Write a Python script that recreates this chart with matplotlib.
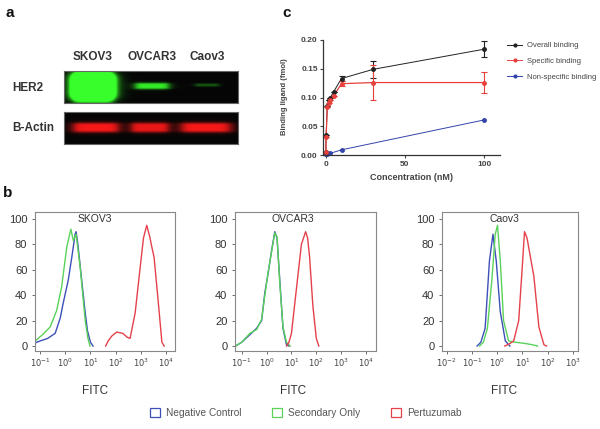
import numpy as np
import matplotlib
matplotlib.use('Agg')
import matplotlib.pyplot as plt
from matplotlib.patches import Patch
from matplotlib.lines import Line2D

plt.rcParams['font.family'] = ['Liberation Sans', 'DejaVu Sans']

W, H = 600, 429
fig = plt.figure(figsize=(6, 4.29), dpi=100)


def ax_px(l, t, r, b):
    return fig.add_axes([l / W, 1 - b / H, (r - l) / W, (b - t) / H])


# ---------------- data ----------------
cell_lines = ['SKOV3', 'OVCAR3', 'Caov3']
blot_rows = ['HER2', 'B-Actin']
her2_intensity = [4.0, 0.9, 0.3]
actin_intensity = [0.95, 0.9, 0.95]

conc = [0.1, 0.3, 1, 2, 3, 5, 10, 30, 100]
overall = [0.006, 0.035, 0.085, 0.095, 0.100, 0.110, 0.133, 0.149, 0.184]
overall_err = [0, 0, 0, 0, 0, 0, 0.004, 0.015, 0.014]
specific = [0.005, 0.032, 0.083, 0.090, 0.095, 0.103, 0.124, 0.126, 0.126]
specific_err = [0, 0, 0, 0, 0, 0, 0.004, 0.030, 0.018]
ns_conc = [0.1, 0.3, 1, 3, 10, 100]
nonspecific = [0.001, 0.001, 0.002, 0.003, 0.009, 0.061]
binding_labels = ['Overall binding', 'Specific binding', 'Non-specific binding']

# flow cytometry histograms (log10 FITC, % of max)
skov3_neg_x = [-1.25, -1.0, -0.7, -0.4, -0.2, -0.08, 0.12, 0.26, 0.39, 0.43, 0.5, 0.65, 0.78, 0.88, 1.0, 1.1]
skov3_neg_y = [2, 4, 6, 10, 22, 34, 52, 70, 88, 90, 80, 52, 28, 12, 3, 0]
skov3_sec_x = [-1.25, -1.13, -0.9, -0.6, -0.34, -0.14, 0.06, 0.22, 0.32, 0.43, 0.59, 0.79, 0.9, 0.98]
skov3_sec_y = [3, 5, 9, 15, 28, 47, 78, 92, 83, 88, 62, 20, 6, 0]
skov3_per_x = [1.6, 1.7, 1.85, 2.04, 2.28, 2.45, 2.57, 2.77, 2.97, 3.1, 3.23, 3.35, 3.43, 3.52, 3.69, 3.83, 3.92]
skov3_per_y = [0, 4, 8, 11, 10, 7, 6, 26, 62, 85, 95, 86, 78, 70, 34, 3, 0]

ovcar3_neg_x = [-1.25, -1.0, -0.67, -0.4, -0.2, -0.07, 0.06, 0.2, 0.33, 0.42, 0.53, 0.66, 0.8, 0.9]
ovcar3_neg_y = [0, 3, 9, 14, 20, 42, 57, 75, 90, 85, 52, 14, 1, 0]
ovcar3_sec_x = [-1.25, -1.0, -0.67, -0.4, -0.2, -0.07, 0.06, 0.2, 0.33, 0.42, 0.53, 0.66, 0.8, 0.95]
ovcar3_sec_y = [0, 3, 10, 13, 21, 40, 58, 74, 89, 86, 50, 15, 3, 0]
ovcar3_per_x = [0.8, 0.9, 1.0, 1.2, 1.4, 1.57, 1.65, 1.73, 1.86, 2.0, 2.1]
ovcar3_per_y = [0, 3, 10, 45, 80, 90, 85, 70, 32, 6, 0]

caov3_neg_x = [-0.8, -0.65, -0.48, -0.31, -0.17, -0.04, 0.12, 0.32, 0.5]
caov3_neg_y = [0, 3, 14, 67, 88, 67, 27, 4, 0]
caov3_sec_x = [-0.7, -0.55, -0.39, -0.21, -0.08, 0.01, 0.12, 0.25, 0.45, 0.72, 1.12, 1.4, 1.6]
caov3_sec_y = [0, 3, 14, 53, 88, 95, 67, 20, 4, 3, 2, 1, 0]
caov3_per_x = [0.3, 0.5, 0.65, 0.85, 1.0, 1.08, 1.18, 1.45, 1.65, 1.85, 1.95]
caov3_per_y = [0, 2, 4, 20, 65, 90, 85, 55, 15, 1, 0]

hist_series = {
    'SKOV3': [(skov3_neg_x, skov3_neg_y), (skov3_sec_x, skov3_sec_y), (skov3_per_x, skov3_per_y)],
    'OVCAR3': [(ovcar3_neg_x, ovcar3_neg_y), (ovcar3_sec_x, ovcar3_sec_y), (ovcar3_per_x, ovcar3_per_y)],
    'Caov3': [(caov3_neg_x, caov3_neg_y), (caov3_sec_x, caov3_sec_y), (caov3_per_x, caov3_per_y)],
}
hist_decades = {'SKOV3': [-1, 0, 1, 2, 3, 4], 'OVCAR3': [-1, 0, 1, 2, 3, 4], 'Caov3': [-2, -1, 0, 1, 2, 3]}
hist_labels = ['Negative Control', 'Secondary Only', 'Pertuzumab']
hist_yticks = [0, 20, 40, 60, 80, 100]

# ---------------- styles ----------------
c_blue = '#3d4fb8'
c_green = '#5ad25a'
c_red = '#e5414b'
hist_colors = [c_blue, c_green, c_red]
txt = '#333333'

# ---------------- panel letters ----------------
for s, x, y in [('a', 10, 13), ('c', 287, 13), ('b', 8, 193)]:
    fig.text(x / W, 1 - y / H, s, fontsize=11, fontweight='bold', ha='center', va='center', color='#111')

# ---------------- panel a: western blot ----------------
lane_cx = [93, 152, 207]
blot_l, blot_r = 64, 238


def blot_image(intens, centers, widths, ycs, heights, rgb, pw, ph, res=4):
    xs = np.linspace(0, pw, pw * res)
    ys = np.linspace(0, ph, ph * res)
    X, Y = np.meshgrid(xs, ys)
    val = np.zeros_like(X)
    for I, cx, w, cy, h in zip(intens, centers, widths, ycs, heights):
        fx = 1 / (1 + ((X - cx) / (w / 2)) ** 8)
        fy = 1 / (1 + ((Y - cy) / (h / 2)) ** 6)
        val += I * fx * fy
    val = np.clip(val, 0, 1)
    img = np.zeros(X.shape + (3,)) + 0.02
    for k in range(3):
        img[..., k] += val * rgb[k]
    return np.clip(img, 0, 1)


pw = blot_r - blot_l
ph = 32
# HER2
axh = ax_px(blot_l, 71, blot_r, 103)
img = blot_image(her2_intensity, [c - blot_l for c in lane_cx], [40, 34, 24], [15.5, 15, 14],
                 [25, 6, 3], (0.2, 1.0, 0.15), pw, ph)
axh.imshow(img, extent=[0, pw, ph, 0], aspect='auto', interpolation='bilinear')
# Actin
axa = ax_px(blot_l, 112, blot_r, 144)
img2 = blot_image(actin_intensity, [96 - blot_l, 150 - blot_l, 206 - blot_l], [46, 38, 50], [16, 16, 16],
                  [9, 9, 9], (1.0, 0.08, 0.08), pw, ph)
axa.imshow(img2, extent=[0, pw, ph, 0], aspect='auto', interpolation='bilinear')
for a in (axh, axa):
    a.set_xticks([])
    a.set_yticks([])
    for sp in a.spines.values():
        sp.set_color('#666')
        sp.set_linewidth(0.8)

for name, cx in zip(cell_lines, lane_cx):
    fig.text(cx / W, 1 - 57 / H, name, fontsize=8.5, fontweight='bold', ha='center', va='center', color=txt)
for name, y in zip(blot_rows, [88, 128]):
    fig.text(12 / W, 1 - y / H, name, fontsize=8.5, fontweight='bold', ha='left', va='center', color=txt)

# ---------------- panel c: binding ----------------
axc = ax_px(323.3, 40, 500, 155)
c_black = '#222222'
c_red2 = '#e8413c'
c_blue2 = '#3344aa'
axc.plot([0] + conc, [0] + overall, color=c_black, lw=0.7)
axc.plot([0] + conc, [0] + specific, color=c_red2, lw=0.9)
axc.plot([0] + ns_conc, [0] + nonspecific, color=c_blue2, lw=0.7)
axc.errorbar(conc, overall, yerr=overall_err, fmt='o', color=c_black, ms=2.5, elinewidth=0.8,
             capsize=2, capthick=0.8, clip_on=False)
axc.errorbar(conc, specific, yerr=specific_err, fmt='o', color=c_red2, ms=2.5, elinewidth=0.8,
             capsize=2, capthick=0.8, clip_on=False)
axc.plot(ns_conc, nonspecific, 'o', color=c_blue2, ms=2.5, clip_on=False)
axc.set_xlim(-1.5, 110)
axc.set_ylim(0, 0.2)
axc.set_xticks([0, 50, 100])
axc.set_yticks([0, 0.05, 0.10, 0.15, 0.20])
axc.set_yticklabels(['0.00', '0.05', '0.10', '0.15', '0.20'])
axc.spines['top'].set_visible(False)
axc.spines['right'].set_visible(False)
for sp in ('left', 'bottom'):
    axc.spines[sp].set_color('#333')
    axc.spines[sp].set_linewidth(0.9)
axc.tick_params(labelsize=6, colors='#444', length=2.5, width=0.8, pad=1.5)
for t in axc.get_xticklabels() + axc.get_yticklabels():
    t.set_fontweight('bold')
fig.text(411 / W, 1 - 178 / H, 'Concentration (nM)', fontsize=6.5, fontweight='bold', ha='center',
         va='center', color='#444')
fig.text(285 / W, 1 - 97 / H, 'Binding ligand (fmol)', fontsize=5.5, fontweight='bold', ha='center',
         va='center', rotation=90, color='#444')
leg_h = [Line2D([], [], color=c, marker='o', ms=2, lw=0.7) for c in (c_black, c_red2, c_blue2)]
fig.legend(leg_h, binding_labels, loc='upper left', bbox_to_anchor=(500 / W, 1 - 35 / H), frameon=False,
           fontsize=5.5, handlelength=2, handletextpad=0.6, labelspacing=1.1, labelcolor='#444')

# ---------------- panel b: flow cytometry ----------------
hist_boxes = {'SKOV3': (35, 175), 'OVCAR3': (235, 376), 'Caov3': (442, 578)}
hist_xlims = {'SKOV3': (-1.2, 4.35), 'OVCAR3': (-1.27, 4.4), 'Caov3': (-2.19, 3.2)}
title_fx = {'SKOV3': 0.43, 'OVCAR3': 0.41, 'Caov3': 0.46}
for name in cell_lines:
    l, r = hist_boxes[name]
    ax = ax_px(l, 212, r, 351)
    for (lx, y), col in zip(hist_series[name], hist_colors):
        ax.plot(10 ** np.array(lx), y, color=col, lw=1.0)
    ax.set_xscale('log')
    lo, hi = hist_xlims[name]
    ax.set_xlim(10 ** lo, 10 ** hi)
    ax.set_ylim(-3.9, 105.5)
    dec = hist_decades[name]
    ax.set_xticks([10.0 ** d for d in dec])
    ax.set_xticklabels(['$10^{%d}$' % d for d in dec])
    ax.minorticks_off()
    ax.set_yticks(hist_yticks)
    ax.tick_params(axis='x', labelsize=6, colors='#555', length=2, width=0.6, pad=2)
    ax.tick_params(axis='y', labelsize=8, colors='#555', length=2.5, width=0.6, pad=3)
    for t in ax.get_yticklabels():
        t.set_color('#333')
    for t in ax.get_xticklabels():
        t.set_color('#444')
    for sp in ax.spines.values():
        sp.set_color('#888')
        sp.set_linewidth(0.8)
    ax.text(title_fx[name], 0.95, name, transform=ax.transAxes, ha='center', va='center',
            fontsize=7.5, color=txt)
    fx = l + title_fx[name] * (r - l)
    fig.text(fx / W, 1 - 391 / H, 'FITC', fontsize=8.5, ha='center', va='center', color=txt)

hleg = [Patch(facecolor='white', edgecolor=c, linewidth=0.9) for c in hist_colors]
fig.legend(hleg, hist_labels, loc='center', bbox_to_anchor=(306 / W, 1 - 413 / H), ncol=3, frameon=False,
           fontsize=7.3, handlelength=1.0, handleheight=1.0, handletextpad=0.6, columnspacing=3.0,
           labelcolor='#555')

fig.savefig('out.png', dpi=100)
